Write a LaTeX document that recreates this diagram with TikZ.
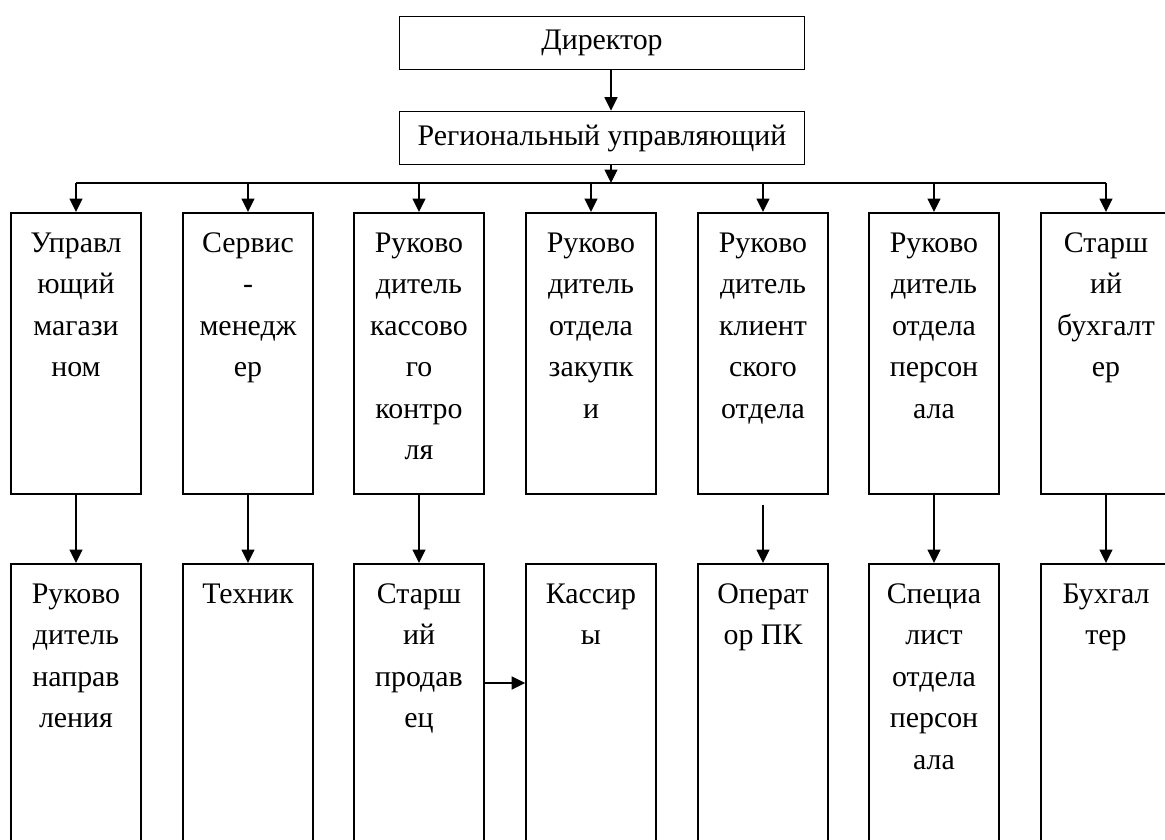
\documentclass[tikz,border=0pt]{standalone}
\usepackage{fontspec}
\setmainfont{Liberation Serif}
\usetikzlibrary{arrows.meta}

\begin{document}
\begin{tikzpicture}[x=0.02cm, y=-0.02cm,
  every node/.style={font=\fontsize{17}{23.6}\selectfont},
  head/.style={draw, line width=1pt, minimum width=8.1cm, minimum height=1.06cm, inner sep=0pt},
  post/.style={draw, line width=0.9pt, anchor=north, minimum width=2.6cm, inner sep=0pt},
  upper/.style={post, minimum height=5.62cm},
  lower/.style={post, minimum height=6cm},
  txt/.style={anchor=north, align=center, inner sep=0pt, yshift=-6.2pt},
  arr/.style={line width=0.9pt, -{Triangle[length=2.7mm, width=2.6mm]}}]

\useasboundingbox (0,0) rectangle (1165,839);
\clip (0,0) rectangle (1165,839);

\node[head] (dir) at (602,43) {Директор};
\node[head] (reg) at (602,138) {Региональный управляющий};
\coordinate (bus) at (611,183);

\node[upper, label={[txt]north:{\strut Управл\\ющий\\магази\\ном}}] (shop) at (76,212) {};
\node[upper, label={[txt]north:{\strut Сервис\\-\\менедж\\ер}}] (serv) at (248,212) {};
\node[upper, label={[txt]north:{\strut Руково\\дитель\\кассово\\го\\контро\\ля}}] (cash) at (419,212) {};
\node[upper, label={[txt]north:{\strut Руково\\дитель\\отдела\\закупк\\и}}] (buy) at (591,212) {};
\node[upper, label={[txt]north:{\strut Руково\\дитель\\клиент\\ского\\отдела}}] (client) at (763,212) {};
\node[upper, label={[txt]north:{\strut Руково\\дитель\\отдела\\персон\\ала}}] (hr) at (934,212) {};
\node[upper, label={[txt]north:{\strut Старш\\ий\\бухгалт\\ер}}] (acc) at (1106,212) {};

\node[lower, label={[txt]north:{\strut Руково\\дитель\\направ\\ления}}] (lead) at (76,563) {};
\node[lower, label={[txt]north:{\strut Техник}}] (tech) at (248,563) {};
\node[lower, label={[txt]north:{\strut Старш\\ий\\продав\\ец}}] (seller) at (419,563) {};
\node[lower, label={[txt]north:{\strut Кассир\\ы}}] (cashiers) at (591,563) {};
\node[lower, label={[txt]north:{\strut Операт\\ор ПК}}] (oper) at (763,563) {};
\node[lower, label={[txt]north:{\strut Специа\\лист\\отдела\\персон\\ала}}] (spec) at (934,563) {};
\node[lower, label={[txt]north:{\strut Бухгал\\тер}}] (book) at (1106,563) {};

\draw[arr] (dir.south -| bus) -- (reg.north -| bus);
\draw[arr] (reg.south -| bus) -- (bus);
\draw[line width=0.9pt] (shop.north |- bus) -- (acc.north |- bus);
\draw[arr] (shop.north |- bus) -- (shop.north);
\draw[arr] (serv.north |- bus) -- (serv.north);
\draw[arr] (cash.north |- bus) -- (cash.north);
\draw[arr] (buy.north |- bus) -- (buy.north);
\draw[arr] (client.north |- bus) -- (client.north);
\draw[arr] (hr.north |- bus) -- (hr.north);
\draw[arr] (acc.north |- bus) -- (acc.north);

\draw[arr] (shop.south) -- (lead.north);
\draw[arr] (serv.south) -- (tech.north);
\draw[arr] (cash.south) -- (seller.north);
\draw[arr] ([yshift=-0.2cm]client.south) -- (oper.north);
\draw[arr] (hr.south) -- (spec.north);
\draw[arr] (acc.south) -- (book.north);
\draw[arr] ([yshift=-2.4cm]seller.north east) -- ([yshift=-2.4cm]cashiers.north west);

\end{tikzpicture}
\end{document}
